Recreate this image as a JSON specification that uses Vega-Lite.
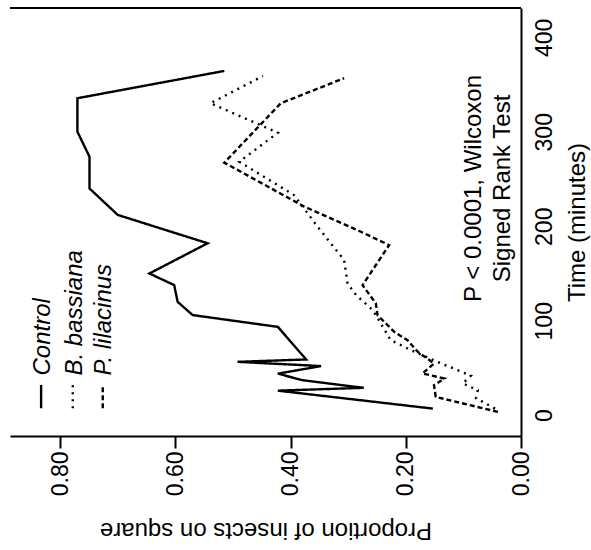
{
  "$schema": "https://vega.github.io/schema/vega-lite/v6.json",
  "width": 511,
  "height": 428,
  "autosize": "none",
  "padding": {"left": 10, "top": 8, "right": 70, "bottom": 114},
  "background": "white",
  "config": {
    "view": {"stroke": null},
    "font": "Liberation Sans",
    "axis": {"grid": false, "domainColor": "black", "domainWidth": 2, "tickColor": "black", "labelColor": "black", "titleColor": "black", "labelFont": "Liberation Sans", "titleFont": "Liberation Sans", "titleFontWeight": "normal"}
  },
  "datasets": {
    "curves": [
      {"series": "Control", "time": 7, "prop": 0.153},
      {"series": "Control", "time": 26, "prop": 0.422},
      {"series": "Control", "time": 29, "prop": 0.273},
      {"series": "Control", "time": 37, "prop": 0.379},
      {"series": "Control", "time": 44, "prop": 0.422},
      {"series": "Control", "time": 52, "prop": 0.347},
      {"series": "Control", "time": 56.5, "prop": 0.492},
      {"series": "Control", "time": 59, "prop": 0.373},
      {"series": "Control", "time": 93.5, "prop": 0.422},
      {"series": "Control", "time": 106, "prop": 0.57},
      {"series": "Control", "time": 120, "prop": 0.596},
      {"series": "Control", "time": 137.7, "prop": 0.602},
      {"series": "Control", "time": 150, "prop": 0.645},
      {"series": "Control", "time": 182, "prop": 0.544},
      {"series": "Control", "time": 212, "prop": 0.7},
      {"series": "Control", "time": 240, "prop": 0.749},
      {"series": "Control", "time": 273.6, "prop": 0.749},
      {"series": "Control", "time": 300, "prop": 0.77},
      {"series": "Control", "time": 335.5, "prop": 0.77},
      {"series": "Control", "time": 364.4, "prop": 0.515},
      {"series": "B. bassiana", "time": 7, "prop": 0.045},
      {"series": "B. bassiana", "time": 18, "prop": 0.078},
      {"series": "B. bassiana", "time": 26.5, "prop": 0.075},
      {"series": "B. bassiana", "time": 33.6, "prop": 0.101},
      {"series": "B. bassiana", "time": 41.8, "prop": 0.087},
      {"series": "B. bassiana", "time": 56.5, "prop": 0.145},
      {"series": "B. bassiana", "time": 68.9, "prop": 0.191},
      {"series": "B. bassiana", "time": 79.4, "prop": 0.226},
      {"series": "B. bassiana", "time": 111, "prop": 0.257},
      {"series": "B. bassiana", "time": 127, "prop": 0.286},
      {"series": "B. bassiana", "time": 139.5, "prop": 0.301},
      {"series": "B. bassiana", "time": 164.2, "prop": 0.307},
      {"series": "B. bassiana", "time": 199.5, "prop": 0.353},
      {"series": "B. bassiana", "time": 233, "prop": 0.394},
      {"series": "B. bassiana", "time": 268.3, "prop": 0.489},
      {"series": "B. bassiana", "time": 299, "prop": 0.422},
      {"series": "B. bassiana", "time": 330.2, "prop": 0.539},
      {"series": "B. bassiana", "time": 359, "prop": 0.448},
      {"series": "P. lilacinus", "time": 3.5, "prop": 0.04},
      {"series": "P. lilacinus", "time": 19.4, "prop": 0.148},
      {"series": "P. lilacinus", "time": 31.8, "prop": 0.151},
      {"series": "P. lilacinus", "time": 38.9, "prop": 0.133},
      {"series": "P. lilacinus", "time": 44.2, "prop": 0.171},
      {"series": "P. lilacinus", "time": 54.8, "prop": 0.151},
      {"series": "P. lilacinus", "time": 67, "prop": 0.179},
      {"series": "P. lilacinus", "time": 79.4, "prop": 0.197},
      {"series": "P. lilacinus", "time": 88.2, "prop": 0.22},
      {"series": "P. lilacinus", "time": 105.9, "prop": 0.249},
      {"series": "P. lilacinus", "time": 118.3, "prop": 0.252},
      {"series": "P. lilacinus", "time": 137.7, "prop": 0.275},
      {"series": "P. lilacinus", "time": 180, "prop": 0.229},
      {"series": "P. lilacinus", "time": 194.2, "prop": 0.278},
      {"series": "P. lilacinus", "time": 220.7, "prop": 0.376},
      {"series": "P. lilacinus", "time": 267.3, "prop": 0.515},
      {"series": "P. lilacinus", "time": 330.2, "prop": 0.417},
      {"series": "P. lilacinus", "time": 356.7, "prop": 0.307}
    ],
    "legendSymbols": [
      {"series": "Control", "prop": 0.833, "time": 7.5, "time2": 32},
      {"series": "B. bassiana", "prop": 0.778, "time": 7.5, "time2": 32},
      {"series": "P. lilacinus", "prop": 0.726, "time": 7.5, "time2": 32}
    ],
    "legendLabels": [
      {"label": "Control", "prop": 0.829, "time": 42},
      {"label": "B. bassiana", "prop": 0.775, "time": 42},
      {"label": "P. lilacinus", "prop": 0.723, "time": 42}
    ],
    "note": [
      {"label": ["P < 0.0001, Wilcoxon", "Signed Rank Test"], "prop": 0.081, "time": 240}
    ],
    "frame": [{"time": 431}]
  },
  "layer": [
    {
      "data": {"name": "curves"},
      "mark": {"type": "line", "strokeWidth": 2.4, "color": "black", "strokeCap": "butt"},
      "encoding": {
        "x": {
          "field": "prop", "type": "quantitative",
          "scale": {"domain": [0, 0.887], "reverse": true, "nice": false, "zero": false},
          "axis": {
            "orient": "bottom", "title": "Proportion of insects on square",
            "values": [0, 0.2, 0.4, 0.6, 0.8], "format": ".2f",
            "labelAngle": 270, "labelAlign": "right", "labelBaseline": "middle",
            "labelFontSize": 23, "labelPadding": 3, "tickSize": 12, "tickWidth": 2,
            "titleAngle": 180, "titleBaseline": "bottom", "titleFontSize": 24, "titlePadding": 22
          }
        },
        "y": {
          "field": "time", "type": "quantitative",
          "scale": {"domain": [-22, 431], "nice": false, "zero": false},
          "axis": {
            "orient": "right", "title": "Time (minutes)",
            "values": [0, 100, 200, 300, 400],
            "ticks": false, "labelAngle": 270, "labelAlign": "center", "labelBaseline": "top",
            "labelFontSize": 23, "labelPadding": 12,
            "titleAngle": 270, "titleBaseline": "top", "titleFontSize": 24, "titlePadding": 9
          }
        },
        "order": {"field": "time", "type": "quantitative"},
        "strokeDash": {
          "field": "series", "type": "nominal",
          "scale": {"domain": ["Control", "B. bassiana", "P. lilacinus"], "range": [[1, 0], [2, 5], [5, 3]]},
          "legend": null
        }
      }
    },
    {
      "data": {"name": "frame"},
      "mark": {"type": "rule", "color": "black", "strokeWidth": 2},
      "encoding": {"y": {"field": "time", "type": "quantitative"}}
    },
    {
      "data": {"name": "legendSymbols"},
      "mark": {"type": "rule", "color": "black", "strokeWidth": 2.4},
      "encoding": {
        "x": {"field": "prop", "type": "quantitative"},
        "y": {"field": "time", "type": "quantitative"},
        "y2": {"field": "time2"},
        "strokeDash": {"field": "series", "type": "nominal", "legend": null}
      }
    },
    {
      "data": {"name": "legendLabels"},
      "mark": {"type": "text", "angle": 270, "align": "left", "baseline": "middle", "fontSize": 24, "fontStyle": "italic", "font": "Liberation Sans", "color": "black"},
      "encoding": {
        "x": {"field": "prop", "type": "quantitative"},
        "y": {"field": "time", "type": "quantitative"},
        "text": {"field": "label"}
      }
    },
    {
      "data": {"name": "note"},
      "mark": {"type": "text", "angle": 270, "align": "center", "baseline": "middle", "fontSize": 24, "lineHeight": 29, "font": "Liberation Sans", "color": "black"},
      "encoding": {
        "x": {"field": "prop", "type": "quantitative"},
        "y": {"field": "time", "type": "quantitative"},
        "text": {"field": "label"}
      }
    }
  ]
}
